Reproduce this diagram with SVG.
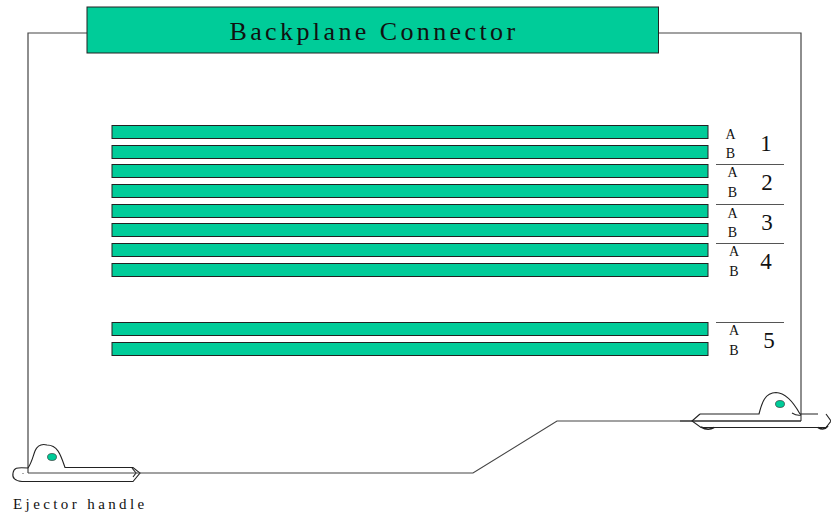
<svg xmlns="http://www.w3.org/2000/svg" width="831" height="514" viewBox="0 0 831 514">
<style>
text{font-family:"Liberation Serif","Times New Roman",serif;fill:#111}
.bar{fill:#00cc99;stroke:#222;stroke-width:1}
.line{fill:none;stroke:#444;stroke-width:1.2}
.hl{fill:none;stroke:#222;stroke-width:1.1}
.sep{stroke:#555;stroke-width:1}
.ab{font-size:14px;text-anchor:middle}
.num{font-size:23px;text-anchor:middle}
</style>
<rect width="831" height="514" fill="#fff"/>
<g id="connectors">
<path class="line" d="M87 33H28V473"/>
<path class="line" d="M659 33H801V421"/>
<path class="line" d="M140 473H473L557 421H801"/>
</g>
<g id="backplane">
<rect class="bar" x="87" y="7" width="571.500" height="46"/>
<text x="374" y="40" font-size="26" text-anchor="middle" letter-spacing="3.400">Backplane Connector</text>
</g>
<g id="rows">
<rect class="bar" x="112" y="125.500" width="596" height="13"/>
<rect class="bar" x="112" y="145.500" width="596" height="13"/>
<rect class="bar" x="112" y="164.500" width="596" height="13"/>
<rect class="bar" x="112" y="184.500" width="596" height="13"/>
<rect class="bar" x="112" y="204.500" width="596" height="13"/>
<rect class="bar" x="112" y="223.500" width="596" height="13"/>
<rect class="bar" x="112" y="243.500" width="596" height="13"/>
<rect class="bar" x="112" y="263.500" width="596" height="13"/>
<rect class="bar" x="112" y="322.500" width="596" height="13"/>
<rect class="bar" x="112" y="342.500" width="596" height="13"/>
</g>
<g id="labels">
<path class="sep" d="M716 164.500H784M716 204.500H784M716 243.500H784M716 322.500H784"/>
<text class="ab" x="730.500" y="138.500">A</text><text class="ab" x="730.500" y="157.500">B</text>
<text class="ab" x="732.500" y="177">A</text><text class="ab" x="732.500" y="197">B</text>
<text class="ab" x="732.500" y="218">A</text><text class="ab" x="732.500" y="237">B</text>
<text class="ab" x="734" y="256">A</text><text class="ab" x="734" y="276">B</text>
<text class="ab" x="734" y="335">A</text><text class="ab" x="734" y="355">B</text>
<text class="num" x="766" y="151">1</text>
<text class="num" x="767" y="190">2</text>
<text class="num" x="767" y="230">3</text>
<text class="num" x="766" y="269">4</text>
<text class="num" x="769" y="348">5</text>
</g>
<g id="ejector-left">
<path class="hl" d="M28 468C32 462 33 456 35 451C38 444 43 444 47 445C58 445 61 456 65 467.500H133L140 473L133 481.500H22C15 481 12 478 13 473C14 468 16 467 28 468"/>
<path class="hl" d="M132 468L136 473L133 477"/>
<ellipse cx="52" cy="457" rx="4.500" ry="3.500" fill="#00cc99" stroke="#222" stroke-width=".6"/>
<path class="line" d="M28 473H140"/>
<rect x="22.500" y="473" width="1" height="1" fill="#555"/>
<text x="13" y="508.500" font-size="15" letter-spacing="3.400">Ejector handle</text>
</g>
<g id="ejector-right">
<path class="hl" d="M700 414H759C762 402 765 393 776 392.500C787 393 795 405 800 414"/>
<path class="hl" d="M700 414L692 421L701 427.500H826L831 421L826 414"/>
<path class="hl" d="M800 414H818M792 413Q797 416 801 415"/>
<ellipse cx="780" cy="404" rx="4.500" ry="3.500" fill="#00cc99" stroke="#222" stroke-width=".6"/>
<path d="M680 421H801" stroke="#222" stroke-width="1.100"/>
<path d="M701 427Q708 431 714 427.500M818 427.500Q824 431 828 426" fill="none" stroke="#222" stroke-width="1.500"/>
</g>
</svg>
